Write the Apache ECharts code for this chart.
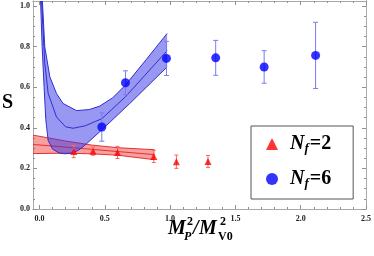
<!DOCTYPE html>
<html><head><meta charset="utf-8">
<script src="https://cdn.jsdelivr.net/npm/echarts@6/dist/echarts.min.js"></script>
<style>html,body{margin:0;padding:0;background:#fff}#c{width:374px;height:256px}</style>
</head><body><div id="c"></div>
<script>
// ---- data ----
const nf2X   = [0.262, 0.41, 0.597, 0.875, 1.048, 1.29];
const nf2Y   = [0.283, 0.285, 0.279, 0.259, 0.233, 0.234];
const nf2Err = [0.030, 0.020, 0.030, 0.030, 0.033, 0.030];

const nf6X   = [0.477, 0.658, 0.972, 1.349, 1.72, 2.114];
const nf6Y   = [0.404, 0.622, 0.742, 0.745, 0.700, 0.757];
const nf6Err = [0.070, 0.059, 0.084, 0.086, 0.080, 0.163];

// Nf=2 linear fit band
const nf2FitX   = [-0.05, 0.2, 0.4, 0.6, 0.88];
const nf2FitMid = [0.318, 0.305, 0.294, 0.283, 0.268];
const nf2FitUp  = [0.364, 0.335, 0.315, 0.302, 0.292];
const nf2FitLo  = [0.273, 0.275, 0.272, 0.265, 0.243];

// Nf=6 fit band curves [x, y]
const nf6FitUp  = [[0.022,1.025],[0.04,0.80],[0.079,0.651],[0.13,0.569],[0.18,0.52],[0.283,0.485],[0.38,0.49],[0.461,0.507],[0.56,0.548],[0.653,0.607],[0.819,0.738],[0.977,0.865]];
const nf6FitMid = [[0.016,1.025],[0.04,0.72],[0.066,0.57],[0.13,0.453],[0.2,0.405],[0.257,0.398],[0.35,0.41],[0.477,0.445],[0.658,0.553],[0.977,0.78]];
const nf6FitLo  = [[0.008,1.025],[0.02,0.80],[0.035,0.60],[0.048,0.44],[0.066,0.338],[0.1,0.295],[0.15,0.276],[0.194,0.272],[0.25,0.276],[0.3,0.29],[0.347,0.314],[0.477,0.39],[0.691,0.52],[0.977,0.70]];

// ticks
const xMajor = [0, 0.5, 1.0, 1.5, 2.0, 2.5];
const xMinor = [0,0.1,0.2,0.3,0.4,0.5,0.6,0.7,0.8,0.9,1.0,1.1,1.2,1.3,1.4,1.5,1.6,1.7,1.8,1.9,2.0,2.1,2.2,2.3,2.4,2.5];
const yMajor = [0, 0.2, 0.4, 0.6, 0.8, 1.0];
const yMinor = [0,0.05,0.1,0.15,0.2,0.25,0.3,0.35,0.4,0.45,0.5,0.55,0.6,0.65,0.7,0.75,0.8,0.85,0.9,0.95,1.0];

// ---- chart ----
const SERIF = '"Liberation Serif","DejaVu Serif",serif';
const chart = echarts.init(document.getElementById('c'), null, {renderer:'canvas'});
const FRAME = '#a8a8a8', TICK = '#909090';
const labStyle = {fontFamily:SERIF, fontWeight:'bold', fontSize:8, color:'#222'};

function xAx(pos, vals, len, labels){
  return {type:'value', min:-0.05, max:2.5, position:pos, gridIndex:0,
    axisLine:{show:true, onZero:false, lineStyle:{color:FRAME, width:1}},
    axisTick:{show:true, inside:true, length:len, customValues:vals, lineStyle:{color:TICK, width:1}},
    axisLabel: labels ? Object.assign({show:true, customValues:vals, margin:6, formatter:v=>v.toFixed(1)}, labStyle) : {show:false},
    splitLine:{show:false}};
}
function yAx(pos, vals, len, labels){
  return {type:'value', min:0, max:1.025, position:pos, gridIndex:0,
    axisLine:{show:true, onZero:false, lineStyle:{color:FRAME, width:1}},
    axisTick:{show:true, inside:true, length:len, customValues:vals, lineStyle:{color:TICK, width:1}},
    axisLabel: labels ? Object.assign({show:true, customValues:vals, margin:3, formatter:v=>v.toFixed(1)}, labStyle) : {show:false},
    splitLine:{show:false}};
}
const pairs = (xs, ys) => xs.map((x,i)=>[x, ys[i]]);

function band(up, lo, fill, z){
  return {type:'custom', silent:true, clip:true, z:z, xAxisIndex:0, yAxisIndex:0, data:[[0,0]],
    renderItem:(p, api)=>{
      const pts = up.map(q=>api.coord(q)).concat(lo.slice().reverse().map(q=>api.coord(q)));
      return {type:'polygon', shape:{points:pts}, style:{fill:fill, stroke:null}};
    }};
}
function curve(pts, color, z){
  return {type:'line', silent:true, clip:true, z:z, data:pts, showSymbol:false, symbol:'none',
    lineStyle:{color:color, width:1}, xAxisIndex:0, yAxisIndex:0};
}
function errBars(xs, ys, es, color, cap, z){
  return {type:'custom', silent:true, z:z, xAxisIndex:0, yAxisIndex:0,
    data: xs.map((x,i)=>[x, ys[i]-es[i], ys[i]+es[i]]),
    encode:{x:0, y:[1,2]},
    renderItem:(p, api)=>{
      const lo = api.coord([api.value(0), api.value(1)]);
      const hi = api.coord([api.value(0), api.value(2)]);
      const st = {stroke:color, lineWidth:1};
      return {type:'group', children:[
        {type:'line', shape:{x1:lo[0], y1:lo[1], x2:hi[0], y2:hi[1]}, style:st},
        {type:'line', shape:{x1:lo[0]-cap, y1:lo[1], x2:lo[0]+cap, y2:lo[1]}, style:st},
        {type:'line', shape:{x1:hi[0]-cap, y1:hi[1], x2:hi[0]+cap, y2:hi[1]}, style:st}
      ]};
    }};
}

const richBase = {fontFamily:SERIF, fontWeight:'bold', color:'#000'};
const T = (x, y, text, font) => ({type:'text', x:x, y:y, style:{text:text, font:font, fill:'#000', align:'left', verticalAlign:'middle'}});
const option = {
  animation:false,
  backgroundColor:'#fff',
  grid:{left:33, right:7, top:1, bottom:47, containLabel:false},
  xAxis:[xAx('bottom', xMajor, 4, true), xAx('bottom', xMinor, 2, false), xAx('top', xMajor, 4, false), xAx('top', xMinor, 2, false)],
  yAxis:[yAx('left', yMajor, 4, true), yAx('left', yMinor, 2, false), yAx('right', yMajor, 4, false), yAx('right', yMinor, 2, false)],
  legend:{
    left:251, top:126, orient:'vertical', padding:[7,22,9,15], itemGap:13,
    itemWidth:12, itemHeight:12, borderColor:'#555', borderWidth:1, backgroundColor:'#fff',
    data:[{name:'Nf=2', icon:'triangle'}, {name:'Nf=6', icon:'circle'}],
    formatter: n => n === 'Nf=2' ? '{n|N}{s|f}{e|=2}' : '{n|N}{s|f}{e|=6}',
    textStyle:{rich:{
      n: Object.assign({fontSize:20, fontStyle:'italic', lineHeight:24, padding:[0,0,0,7]}, richBase),
      s: Object.assign({fontSize:13, fontStyle:'italic', lineHeight:24, padding:[9,1,0,0]}, richBase),
      e: Object.assign({fontSize:20, lineHeight:24}, richBase)
    }}
  },
  graphic:[
    {type:'text', x:7.5, y:103, style:{text:'S', font:'bold 20px '+SERIF, fill:'#000', align:'center', verticalAlign:'middle'}},
    T(168, 229, 'M', 'italic bold 20px '+SERIF),
    T(187, 222, '2', 'bold 12px '+SERIF),
    T(184, 237, 'P', 'italic bold 12px '+SERIF),
    T(193, 229, '/', 'italic bold 20px '+SERIF),
    T(199, 229, 'M', 'italic bold 20px '+SERIF),
    T(220, 222, '2', 'bold 12px '+SERIF),
    T(218, 237, 'V0', 'bold 12px '+SERIF)
  ],
  series:[
    band(pairs(nf2FitX, nf2FitUp), pairs(nf2FitX, nf2FitLo), 'rgba(235,45,45,0.45)', 1),
    curve(pairs(nf2FitX, nf2FitUp), '#e83030', 1),
    curve(pairs(nf2FitX, nf2FitMid), '#e83030', 1),
    curve(pairs(nf2FitX, nf2FitLo), '#e83030', 1),
    band(nf6FitUp, nf6FitLo, 'rgba(50,50,230,0.5)', 2),
    curve(nf6FitUp, '#3030d0', 2),
    curve(nf6FitMid, '#3030d0', 2),
    curve(nf6FitLo, '#3030d0', 2),
    errBars(nf2X, nf2Y, nf2Err, '#ee6a6a', 2, 3),
    errBars(nf6X, nf6Y, nf6Err, '#7a7af0', 2.5, 3),
    {type:'scatter', name:'Nf=2', symbol:'triangle', symbolSize:7, z:4, itemStyle:{color:'#ff0000'}, data:pairs(nf2X, nf2Y)},
    {type:'scatter', name:'Nf=6', symbol:'circle', symbolSize:9, z:4, itemStyle:{color:'#0000ff'}, data:pairs(nf6X, nf6Y)}
  ]
};
chart.setOption(option);
</script>
</body></html>
